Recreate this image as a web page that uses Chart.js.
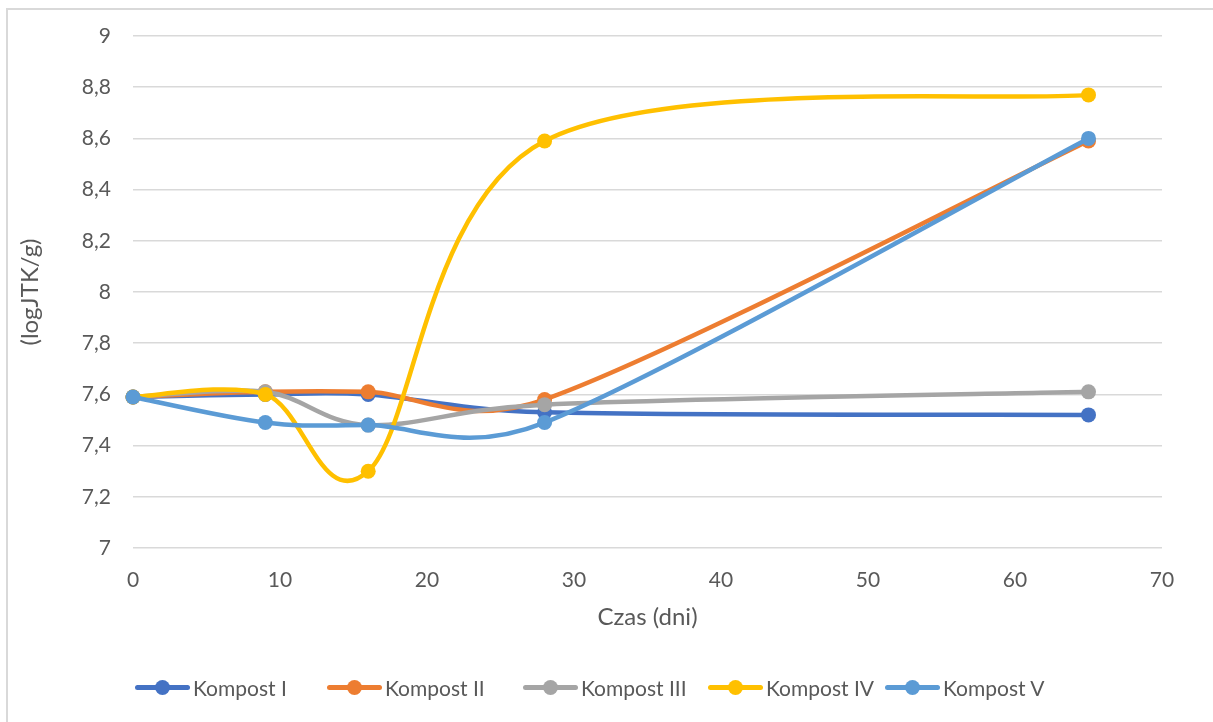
<!DOCTYPE html>
<html>
<head>
<meta charset="utf-8">
<script src="https://cdn.jsdelivr.net/npm/chart.js@4.4.0/dist/chart.umd.min.js"></script>
<style>
    html, body { margin: 0; padding: 0; background: #fff; overflow: hidden; }
    #wrap { position: relative; width: 1213px; height: 722px; }
    #frame {
        position: absolute; left: 6px; top: 8px; width: 1230px; height: 740px;
        border: 2px solid #d9d9d9; box-sizing: border-box;
    }
    #chart { position: absolute; left: 0; top: 0; }
    #legend {
        position: absolute; left: 0; top: 675px; width: 1213px; height: 30px;
        font-family: Lato, "Liberation Sans", sans-serif; font-size: 21px; color: #595959;
    }
    .item { position: absolute; top: 0; display: flex; align-items: center; white-space: nowrap; }
    .sym { position: relative; width: 55px; height: 16px; margin-right: 3px; }
    .sym .ln { position: absolute; left: 0; right: 0; top: 5.5px; height: 5px; border-radius: 3px; }
    .sym .dot { position: absolute; left: 20px; top: 0; width: 15px; height: 15px; border-radius: 50%; }
</style>
</head>
<body>
<div id="wrap">
    <div id="frame"></div>
    <canvas id="chart" width="1213" height="722"></canvas>
    <div id="legend"></div>
</div>
<script>
// data
const days = [0, 9, 16, 28, 65];
const seriesNames = ['Kompost I', 'Kompost II', 'Kompost III', 'Kompost IV', 'Kompost V'];
const kompost1 = [7.59, 7.60, 7.60, 7.53, 7.52];
const kompost2 = [7.59, 7.61, 7.61, 7.58, 8.59];
const kompost3 = [7.59, 7.61, 7.48, 7.56, 7.61];
const kompost4 = [7.59, 7.60, 7.30, 8.59, 8.77];
const kompost5 = [7.59, 7.49, 7.48, 7.49, 8.60];
const seriesColors = ['#4472C4', '#ED7D31', '#A5A5A5', '#FFC000', '#5B9BD5'];
const xTicks = [0, 10, 20, 30, 40, 50, 60, 70];
const yTicks = [7, 7.2, 7.4, 7.6, 7.8, 8, 8.2, 8.4, 8.6, 8.8, 9];

const allSeries = [kompost1, kompost2, kompost3, kompost4, kompost5];
const legendLeft = [135, 327, 523, 708, 885];
const FONT = 'Lato, "Liberation Sans", sans-serif';
const TEXT = '#595959';

function fmt(v) {
    const r = Math.round(v * 10) / 10;
    return Number.isInteger(r) ? String(r) : r.toFixed(1).replace('.', ',');
}

// Excel-like smoothing: catmull-rom control points (neighbour diff / 6),
// shortened so they never reach past half of the adjacent segment
const excelSmooth = {
    id: 'excelSmooth',
    beforeDatasetDraw(chart, args) {
        const meta = args.meta;
        meta.dataset.updateControlPoints(chart.chartArea, 'x');
        const pts = meta.data;
        const dist = (a, b) => Math.hypot(b.x - a.x, b.y - a.y);
        pts.forEach((p, i) => {
            const prev = pts[i - 1] || p;
            const next = pts[i + 1] || p;
            const dx = (next.x - prev.x) / 6;
            const dy = (next.y - prev.y) / 6;
            const len = Math.hypot(dx, dy) || 1;
            const k1 = Math.min(1, 0.5 * dist(prev, p) / len);
            const k2 = Math.min(1, 0.5 * dist(p, next) / len);
            p.cp1x = p.x - dx * k1; p.cp1y = p.y - dy * k1;
            p.cp2x = p.x + dx * k2; p.cp2y = p.y + dy * k2;
        });
    }
};

const datasets = allSeries.map((vals, i) => ({
    label: seriesNames[i],
    data: vals.map((y, j) => ({ x: days[j], y: y })),
    borderColor: seriesColors[i],
    backgroundColor: seriesColors[i],
    pointBackgroundColor: seriesColors[i],
    pointBorderColor: seriesColors[i],
    borderWidth: 4.5,
    pointRadius: 7.5,
    pointBorderWidth: 0,
    tension: 0.4,
    clip: false,
    order: allSeries.length - i   // later series on top, like Excel
}));

new Chart(document.getElementById('chart'), {
    type: 'line',
    data: { datasets: datasets },
    plugins: [excelSmooth],
    options: {
        responsive: false,
        animation: false,
        layout: { padding: { left: 16, top: 36, right: 51, bottom: 53 } },
        plugins: { legend: { display: false }, tooltip: { enabled: false } },
        scales: {
            x: {
                type: 'linear',
                min: 0, max: 70,
                afterBuildTicks: s => { s.ticks = xTicks.map(v => ({ value: v })); },
                afterFit: s => { s.height = 121; },
                grid: { display: false },
                border: { display: false },
                ticks: { padding: 12, color: TEXT, font: { family: FONT, size: 21 } },
                title: {
                    display: true, text: 'Czas (dni)', color: TEXT,
                    font: { family: FONT, size: 24 }, padding: { top: 0, bottom: 37 }
                }
            },
            y: {
                min: 7, max: 9,
                afterBuildTicks: s => { s.ticks = yTicks.map(v => ({ value: v })); },
                afterFit: s => { s.width = 117; },
                grid: { color: '#d9d9d9', lineWidth: 1.5, drawTicks: false },
                border: { display: false },
                ticks: { padding: 22, color: TEXT, font: { family: FONT, size: 21 }, callback: v => fmt(v) },
                title: {
                    display: true, text: '(logJTK/g)', color: TEXT,
                    font: { family: FONT, size: 24 }, padding: { top: 0, bottom: 0 }
                }
            }
        }
    }
});

// legend with line-and-dot symbols
const legend = document.getElementById('legend');
seriesNames.forEach((name, i) => {
    const item = document.createElement('div');
    item.className = 'item';
    item.style.left = legendLeft[i] + 'px';
    item.innerHTML = '<div class="sym"><div class="ln" style="background:' + seriesColors[i] +
        '"></div><div class="dot" style="background:' + seriesColors[i] + '"></div></div><span>' + name + '</span>';
    legend.appendChild(item);
});
</script>
</body>
</html>
